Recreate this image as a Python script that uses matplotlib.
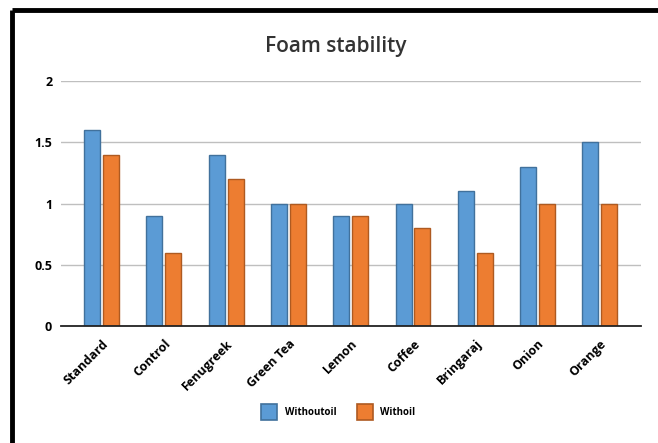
import numpy as np
import matplotlib.pyplot as plt
from matplotlib.lines import Line2D

categories = ["Standard", "Control", "Fenugreek", "Green Tea", "Lemon",
              "Coffee", "Bringaraj", "Onion", "Orange"]
without_oil = [1.6, 0.9, 1.4, 1.0, 0.9, 1.0, 1.1, 1.3, 1.5]
with_oil = [1.4, 0.6, 1.2, 1.0, 0.9, 0.8, 0.6, 1.0, 1.0]
series_names = ["Withoutoil", "Withoil"]
y_ticks = [0, 0.5, 1, 1.5, 2]
y_tick_labels = ["0", "0.5", "1", "1.5", "2"]

plt.rcParams['font.family'] = ['Open Sans', 'DejaVu Sans']

fig = plt.figure(figsize=(6.58, 4.43), dpi=100)
ax = fig.add_axes([0.092, 0.264, 0.882, 0.553])

x = np.arange(len(categories))
w = 0.257
off = 0.152
ax.bar(x - off, without_oil, w, color="#5B9BD5", edgecolor="#41719C", linewidth=1.0,
       label=series_names[0], zorder=3)
ax.bar(x + off, with_oil, w, color="#ED7D31", edgecolor="#AE5A21", linewidth=1.0,
       label=series_names[1], zorder=3)

ax.set_xlim(-0.66, len(categories) - 0.34)
ax.set_ylim(0, 2)
ax.set_yticks(y_ticks)
ax.set_yticklabels(y_tick_labels, fontsize=9, fontweight="bold")
ax.set_xticks(x)
ax.set_xticklabels(categories, rotation=45, ha="right", rotation_mode="anchor",
                   fontsize=9, fontweight="bold")
ax.tick_params(length=0, pad=6)
ax.tick_params(axis="x", pad=8)
ax.grid(axis="y", color="#BFBFBF", linewidth=1.0, zorder=0)
for s in ["top", "right", "left"]:
    ax.spines[s].set_visible(False)
ax.spines["bottom"].set_color("#222222")
ax.spines["bottom"].set_linewidth(1.3)
ax.spines["bottom"].set_zorder(4)

fig.text(0.51, 0.895, "Foam stability", ha="center", va="center",
         fontsize=15, fontweight="semibold", color="#333333")

handles = [
    Line2D([], [], marker="s", linestyle="none", markersize=11,
           markerfacecolor="#5B9BD5", markeredgecolor="#41719C", markeredgewidth=1.2),
    Line2D([], [], marker="s", linestyle="none", markersize=11,
           markerfacecolor="#ED7D31", markeredgecolor="#AE5A21", markeredgewidth=1.2),
]
fig.legend(handles, series_names, loc="center", bbox_to_anchor=(0.513, 0.068),
           ncol=2, frameon=False, handletextpad=0.6, columnspacing=1.9,
           prop={"weight": "bold", "size": 7})

# frame lines along the top and left edge
fig.add_artist(Line2D([0.0175, 1.0], [0.977, 0.977], color="black", linewidth=3.5,
                      transform=fig.transFigure, solid_capstyle="butt"))
fig.add_artist(Line2D([0.0175, 0.0175], [0.977, 0.0], color="black", linewidth=3.5,
                      transform=fig.transFigure, solid_capstyle="butt"))

fig.savefig("out.png", dpi=100)
